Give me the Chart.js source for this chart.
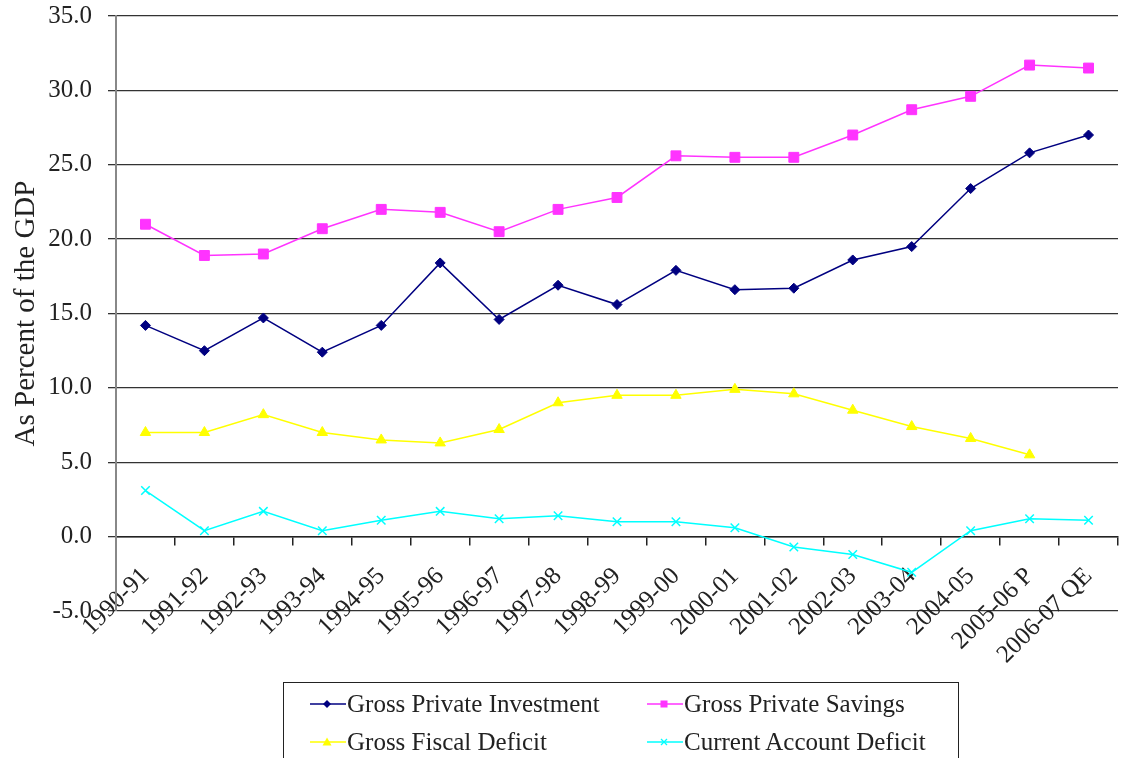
<!DOCTYPE html>
<html lang="en">
<head>
    <meta charset="UTF-8">
    <title>Savings, Investment and Deficits</title>
    <script src="https://cdn.jsdelivr.net/npm/chart.js"></script>
    <style>
        html, body { margin: 0; padding: 0; background: #fff; overflow: hidden; }
        #wrap { position: relative; width: 1126px; height: 758px; }
        #legend {
            position: absolute; left: 283px; top: 682px; width: 676px; height: 90px;
            border: 1.5px solid #222; box-sizing: border-box;
            font-family: 'Liberation Serif', 'Times New Roman', serif; font-size: 25px; color: #222;
        }
        .item { position: absolute; display: flex; align-items: center; white-space: nowrap; }
        .item svg { margin-right: 1px; }
    </style>
</head>
<body>
<div id="wrap">
    <canvas id="chart" width="1126" height="758"></canvas>
    <div id="legend"></div>
</div>
<script>
    // data
    const years = ['1990-91', '1991-92', '1992-93', '1993-94', '1994-95', '1995-96', '1996-97', '1997-98',
        '1998-99', '1999-00', '2000-01', '2001-02', '2002-03', '2003-04', '2004-05', '2005-06 P', '2006-07 QE'];
    const investment = [14.2, 12.5, 14.7, 12.4, 14.2, 18.4, 14.6, 16.9, 15.6, 17.9, 16.6, 16.7, 18.6, 19.5, 23.4, 25.8, 27.0];
    const savings = [21.0, 18.9, 19.0, 20.7, 22.0, 21.8, 20.5, 22.0, 22.8, 25.6, 25.5, 25.5, 27.0, 28.7, 29.6, 31.7, 31.5];
    const fiscalDeficit = [7.0, 7.0, 8.2, 7.0, 6.5, 6.3, 7.2, 9.0, 9.5, 9.5, 9.9, 9.6, 8.5, 7.4, 6.6, 5.5, null];
    const currentAccount = [3.1, 0.4, 1.7, 0.4, 1.1, 1.7, 1.2, 1.4, 1.0, 1.0, 0.6, -0.7, -1.2, -2.4, 0.4, 1.2, 1.1];
    const yTicks = [-5, 0, 5, 10, 15, 20, 25, 30, 35];

    const series = [
        { label: 'Gross Private Investment', data: investment, color: '#000080', style: 'rectRot', r: 5 },
        { label: 'Gross Private Savings', data: savings, color: '#ff33ff', style: 'rect', r: 7 },
        { label: 'Gross Fiscal Deficit', data: fiscalDeficit, color: '#ffff00', style: 'triangle', r: 6 },
        { label: 'Current Account Deficit', data: currentAccount, color: '#00ffff', style: 'crossRot', r: 6 }
    ];

    const serif = "'Liberation Serif', 'Times New Roman', serif";

    new Chart(document.getElementById('chart'), {
        type: 'line',
        data: {
            labels: years,
            datasets: series.map(s => ({
                label: s.label,
                data: s.data,
                borderColor: s.color,
                backgroundColor: s.color,
                borderWidth: 1.5,
                pointStyle: s.style,
                pointRadius: s.r,
                pointBorderWidth: s.style === 'crossRot' ? 1.5 : 1,
                tension: 0
            }))
        },
        options: {
            responsive: false,
            animation: false,
            layout: { padding: { top: 16, right: 0, bottom: 147, left: 0 } },
            plugins: { legend: { display: false }, tooltip: { enabled: false } },
            scales: {
                x: {
                    position: { y: 0 },
                    offset: true,
                    afterFit: s => { s.paddingLeft = 0; s.paddingRight = 0; },
                    grid: { display: true, drawOnChartArea: false, offset: true, tickLength: 8, color: '#222', lineWidth: 1.5 },
                    border: { display: true, color: '#222', width: 1.5 },
                    ticks: {
                        autoSkip: false, maxRotation: 45, minRotation: 45, padding: 17,
                        color: '#222', font: { family: serif, size: 25 }
                    }
                },
                y: {
                    min: -5, max: 35,
                    afterBuildTicks: s => { s.ticks = yTicks.map(v => ({ value: v })); },
                    afterFit: s => { s.width = 116; s.paddingTop = 0; s.paddingBottom = 0; },
                    grid: { color: '#333', lineWidth: 1.3, tickLength: 8 },
                    border: { display: true, color: '#888', width: 2 },
                    ticks: {
                        padding: 16, color: '#222', font: { family: serif, size: 25 },
                        callback: v => Number(v).toFixed(1)
                    },
                    title: {
                        display: true, text: 'As Percent of the GDP', color: '#222',
                        font: { family: serif, size: 29 }, padding: { top: 9, bottom: 0 }
                    }
                }
            }
        }
    });

    // legend box at the bottom, two columns
    const legend = document.getElementById('legend');
    const spots = [[26, 22], [363, 22], [26, 60], [363, 60]];
    series.forEach((s, i) => {
        const el = document.createElement('div');
        el.className = 'item';
        el.style.left = spots[i][0] + 'px';
        el.style.top = (spots[i][1] - 15) + 'px';
        let mark = '';
        const c = s.color;
        if (s.style === 'rectRot') mark = `<polygon points="17,4 21,8 17,12 13,8" fill="${c}"/>`;
        if (s.style === 'rect') mark = `<rect x="13.5" y="4.5" width="7" height="7" fill="${c}"/>`;
        if (s.style === 'triangle') mark = `<polygon points="17,3.5 21.5,11.5 12.5,11.5" fill="${c}"/>`;
        if (s.style === 'crossRot') mark = `<path d="M14 5 L20 11 M20 5 L14 11" stroke="${c}" stroke-width="1.3"/>`;
        el.innerHTML = `<svg width="36" height="16"><line x1="0" y1="8" x2="36" y2="8" stroke="${c}" stroke-width="1.5"/>${mark}</svg><span>${s.label}</span>`;
        legend.appendChild(el);
    });
</script>
</body>
</html>
